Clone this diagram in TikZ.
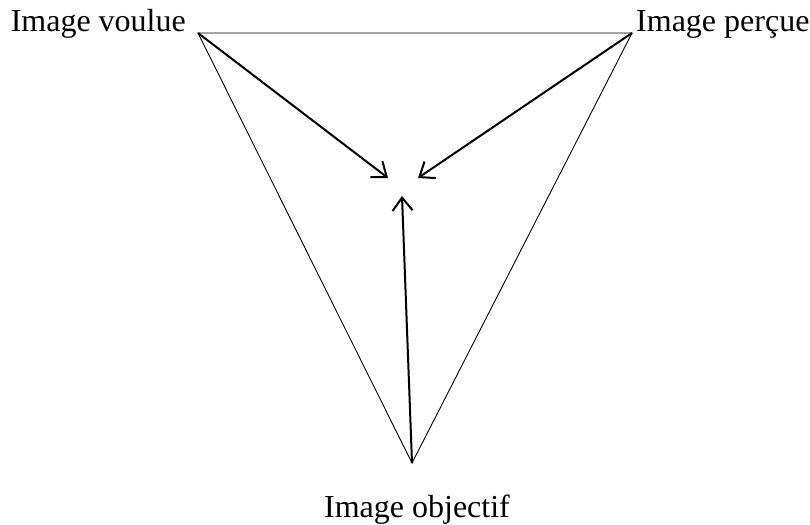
\documentclass[tikz,border=0pt]{standalone}
\usepackage{fontspec}
\setmainfont{Liberation Serif}
\usetikzlibrary{arrows.meta}
\begin{document}
\begin{tikzpicture}[x=1pt, y=-1pt,
    etiq/.style={inner sep=0pt, font=\fontsize{32}{38}\selectfont},
    cote/.style={line width=0.9pt},
    fleche/.style={line width=2pt, -{Straight Barb[length=13pt,width=20pt,line width=2pt]}}]
    \useasboundingbox (0,0) rectangle (810,524);

    % sommets du triangle
    \coordinate (V) at (198,33);
    \coordinate (P) at (632,33);
    \coordinate (O) at (412,463);

    % pointes des fleches
    \coordinate (cV) at (388,178);
    \coordinate (cP) at (418,178);
    \coordinate (cO) at (402,196);

    % triangle
    \draw[cote] (V) -- (P) -- (O) -- cycle;

    % fleches vers le centre
    \draw[fleche] (V) -- (cV);
    \draw[fleche] (P) -- (cP);
    \draw[fleche] (O) -- (cO);

    % etiquettes
    \node[etiq, anchor=base east] (voulue) at (186,32) {Image voulue};
    \node[etiq, anchor=base west] (percue) at (636,32) {Image perçue};
    \node[etiq, anchor=base] (objectif) at (417,517) {Image objectif};
\end{tikzpicture}
\end{document}
